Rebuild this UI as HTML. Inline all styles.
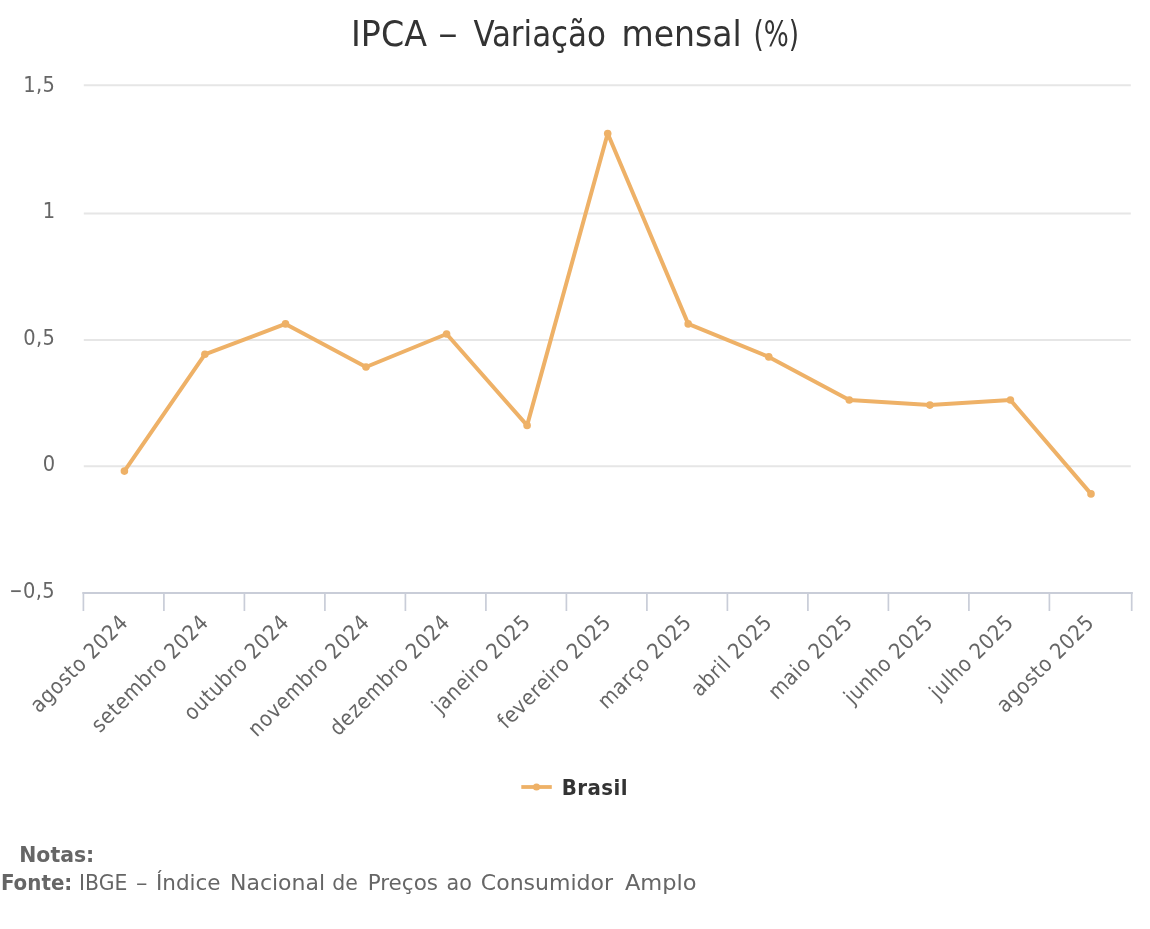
<!DOCTYPE html>
<html lang="pt-BR"><head><meta charset="utf-8"><title>IPCA – Variação mensal (%)</title>
<style>
html,body{margin:0;padding:0;background:#fff;}
body{width:1150px;height:929px;overflow:hidden;position:relative;font-family:"DejaVu Sans Condensed", "DejaVu Sans", "Liberation Sans", sans-serif;}
svg{position:absolute;left:0;top:0;display:block}
svg text{font-family:"DejaVu Sans Condensed", "DejaVu Sans", "Liberation Sans", sans-serif;}
</style></head><body>
<svg width="1150" height="929" viewBox="0 0 1150 929">
<rect width="1150" height="929" fill="#ffffff"/>

<g stroke="#e6e6e6" stroke-width="2" fill="none">
<path d="M83.8 85.2H1130.8"/>
<path d="M83.8 213.5H1130.8"/>
<path d="M83.8 340.0H1130.8"/>
<path d="M83.8 466.3H1130.8"/>
</g>
<g stroke="#c9cdd8" stroke-width="2" fill="none">
<path d="M82.4 593.0H1132.7"/>
<path d="M83.4 592.0V611" stroke-width="1.7"/>
<path d="M163.9 592.0V611" stroke-width="1.7"/>
<path d="M244.4 592.0V611" stroke-width="1.7"/>
<path d="M324.9 592.0V611" stroke-width="1.7"/>
<path d="M405.4 592.0V611" stroke-width="1.7"/>
<path d="M485.9 592.0V611" stroke-width="1.7"/>
<path d="M566.4 592.0V611" stroke-width="1.7"/>
<path d="M646.9 592.0V611" stroke-width="1.7"/>
<path d="M727.4 592.0V611" stroke-width="1.7"/>
<path d="M807.9 592.0V611" stroke-width="1.7"/>
<path d="M888.4 592.0V611" stroke-width="1.7"/>
<path d="M968.9 592.0V611" stroke-width="1.7"/>
<path d="M1049.4 592.0V611" stroke-width="1.7"/>
<path d="M1131.7 592.0V611" stroke-width="1.7"/>
</g>
<g fill="#666666" font-size="21.6" letter-spacing="0.4">
<text x="55.4" y="92.0" text-anchor="end">1,5</text>
<text x="55.4" y="218.4" text-anchor="end">1</text>
<text x="55.4" y="344.8" text-anchor="end">0,5</text>
<text x="55.4" y="471.1" text-anchor="end">0</text>
<text y="597.7"><tspan x="9.5" textLength="13.2" lengthAdjust="spacingAndGlyphs">−</tspan><tspan x="22.9">0,5</tspan></text>
</g>
<g fill="#666666" font-size="21.5" letter-spacing="0.62" text-anchor="end">
<text x="129.3" y="623.6" transform="rotate(-45 129.3 623.6)">agosto 2024</text>
<text x="209.8" y="623.6" transform="rotate(-45 209.8 623.6)">setembro 2024</text>
<text x="290.3" y="623.6" transform="rotate(-45 290.3 623.6)">outubro 2024</text>
<text x="370.9" y="623.6" transform="rotate(-45 370.9 623.6)">novembro 2024</text>
<text x="451.4" y="623.6" transform="rotate(-45 451.4 623.6)">dezembro 2024</text>
<text x="531.9" y="623.6" transform="rotate(-45 531.9 623.6)">janeiro 2025</text>
<text x="612.4" y="623.6" transform="rotate(-45 612.4 623.6)">fevereiro 2025</text>
<text x="692.9" y="623.6" transform="rotate(-45 692.9 623.6)">março 2025</text>
<text x="773.5" y="623.6" transform="rotate(-45 773.5 623.6)">abril 2025</text>
<text x="854.0" y="623.6" transform="rotate(-45 854.0 623.6)">maio 2025</text>
<text x="934.5" y="623.6" transform="rotate(-45 934.5 623.6)">junho 2025</text>
<text x="1015.0" y="623.6" transform="rotate(-45 1015.0 623.6)">julho 2025</text>
<text x="1095.5" y="623.6" transform="rotate(-45 1095.5 623.6)">agosto 2025</text>
</g>
<path d="M124.4 471.1 L204.9 354.3 L285.5 323.9 L366.0 367.0 L446.6 334.0 L527.1 425.4 L607.7 133.5 L688.2 323.9 L768.8 356.9 L849.3 400.0 L929.9 405.1 L1010.4 400.0 L1091.0 493.9" fill="none" stroke="#eeb167" stroke-width="4" stroke-linejoin="round" stroke-linecap="round"/>
<g fill="#eeb167">
<circle cx="124.4" cy="471.1" r="3.8"/>
<circle cx="204.9" cy="354.3" r="3.8"/>
<circle cx="285.5" cy="323.9" r="3.8"/>
<circle cx="366.0" cy="367.0" r="3.8"/>
<circle cx="446.6" cy="334.0" r="3.8"/>
<circle cx="527.1" cy="425.4" r="3.8"/>
<circle cx="607.7" cy="133.5" r="3.8"/>
<circle cx="688.2" cy="323.9" r="3.8"/>
<circle cx="768.8" cy="356.9" r="3.8"/>
<circle cx="849.3" cy="400.0" r="3.8"/>
<circle cx="929.9" cy="405.1" r="3.8"/>
<circle cx="1010.4" cy="400.0" r="3.8"/>
<circle cx="1091.0" cy="493.9" r="3.8"/>
</g>
<path d="M521.3 787H551.8" stroke="#eeb167" stroke-width="3.8" fill="none"/><circle cx="536.5" cy="787" r="3.6" fill="#eeb167"/>
<text x="561.8" y="794.8" font-size="22" letter-spacing="0.45" font-weight="bold" fill="#333333">Brasil</text>
<text y="46" font-size="36" fill="#333333" font-weight="normal"><tspan x="351.0" textLength="75.9" lengthAdjust="spacingAndGlyphs">IPCA</tspan> <tspan x="438.2" textLength="19.4" lengthAdjust="spacingAndGlyphs">–</tspan> <tspan x="473.4" textLength="132.6" lengthAdjust="spacingAndGlyphs">Variação</tspan> <tspan x="621.5" textLength="120.3" lengthAdjust="spacingAndGlyphs">mensal</tspan> <tspan x="753.4" textLength="45.6" lengthAdjust="spacingAndGlyphs">(%)</tspan></text>
<g font-size="22" fill="#666666">
<text y="862.0"><tspan x="19.27" textLength="75.01" lengthAdjust="spacingAndGlyphs" font-weight="bold">Notas:</tspan></text>
<text y="890.2"><tspan x="0.9" textLength="71.43" lengthAdjust="spacingAndGlyphs" font-weight="bold">Fonte:</tspan> <tspan x="79.07" textLength="48.25" lengthAdjust="spacingAndGlyphs">IBGE</tspan> <tspan x="135.9" textLength="11.43" lengthAdjust="spacingAndGlyphs">–</tspan> <tspan x="155.91" textLength="64.68" lengthAdjust="spacingAndGlyphs">Índice</tspan> <tspan x="229.99" textLength="95.08" lengthAdjust="spacingAndGlyphs">Nacional</tspan> <tspan x="332.27" textLength="25.52" lengthAdjust="spacingAndGlyphs">de</tspan> <tspan x="367.71" textLength="70.33" lengthAdjust="spacingAndGlyphs">Preços</tspan> <tspan x="446.55" textLength="25.36" lengthAdjust="spacingAndGlyphs">ao</tspan> <tspan x="480.79" textLength="132.35" lengthAdjust="spacingAndGlyphs">Consumidor</tspan> <tspan x="624.9" textLength="71.72" lengthAdjust="spacingAndGlyphs">Amplo</tspan></text>
</g>
</svg>
</body></html>
